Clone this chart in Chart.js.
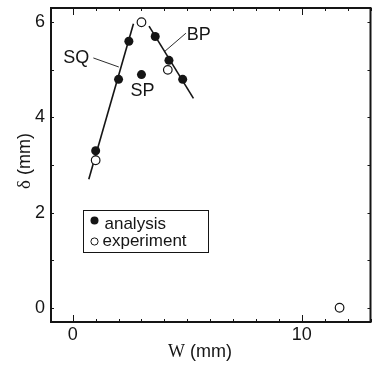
<!DOCTYPE html>
<html>
<head>
<meta charset="utf-8">
<script src="https://cdn.jsdelivr.net/npm/chart.js@4.4.0/dist/chart.umd.min.js"></script>
<style>
  html, body { margin: 0; padding: 0; background: #fff; }
  #wrap { width: 376px; height: 367px; }
</style>
</head>
<body>
<div id="wrap"><canvas id="chart" width="376" height="367"></canvas></div>
<script>
// W (mm) against delta (mm)
const analysisW = [1.0, 2.0, 2.45, 3.0, 3.6, 4.2, 4.8];
const analysisD = [3.3, 4.8, 5.6, 4.9, 5.7, 5.2, 4.8];
const experimentW = [1.0, 3.0, 4.15, 11.65];
const experimentD = [3.1, 6.0, 5.0, 0.0];

// fitted lines SQ and BP
const sqLineW = [0.7, 2.65];
const sqLineD = [2.7, 5.97];
const bpLineW = [3.33, 5.27];
const bpLineD = [5.92, 4.4];

// axes
const xTicks = [0, 10];
const yTicks = [0, 2, 4, 6];
const xRange = [-0.95, 13];
const yRange = [-0.3, 6.3];

// curve names and their leader lines, in data units
const curveLabels = [
  { text: 'SQ', x: 0.15, y: 5.24 },
  { text: 'SP', x: 3.04, y: 4.55 },
  { text: 'BP', x: 5.5, y: 5.73 }
];
const leaders = [
  { x1: 0.9, y1: 5.25, x2: 2.01, y2: 5.06 },
  { x1: 4.94, y1: 5.77, x2: 4.02, y2: 5.39 }
];
const legendAt = { x: 0.46, y: 2.06 };

const ink = '#151515';
const sans = '"Liberation Sans", Arial, sans-serif';
const serif = '"Liberation Serif", "Times New Roman", serif';

const toPoints = (xs, ys) => xs.map((v, i) => ({ x: v, y: ys[i] }));

// Ticks pointing inward, frame, labels, legend, axis titles
const framePlugin = {
  id: 'frame',
  beforeDatasetsDraw(chart) {
    const { ctx, chartArea: a, scales: { x, y } } = chart;
    ctx.save();
    ctx.strokeStyle = ink;
    ctx.lineWidth = 1;
    ctx.beginPath();
    for (let v = Math.ceil(x.min); v <= x.max; v++) {
      const px = Math.round(x.getPixelForValue(v)) + 0.5;
      const len = xTicks.includes(v) ? 7 : 3;
      ctx.moveTo(px, a.bottom); ctx.lineTo(px, a.bottom - len);
      ctx.moveTo(px, a.top); ctx.lineTo(px, a.top + len);
    }
    for (let v = Math.ceil(y.min); v <= y.max; v++) {
      const py = Math.round(y.getPixelForValue(v)) + 0.5;
      ctx.moveTo(a.left, py); ctx.lineTo(a.left + 3, py);
      ctx.moveTo(a.right, py); ctx.lineTo(a.right - 3, py);
    }
    ctx.stroke();

    // leader lines
    ctx.lineWidth = 0.9;
    ctx.beginPath();
    leaders.forEach(l => {
      ctx.moveTo(x.getPixelForValue(l.x1), y.getPixelForValue(l.y1));
      ctx.lineTo(x.getPixelForValue(l.x2), y.getPixelForValue(l.y2));
    });
    ctx.stroke();
    ctx.restore();
  },
  afterDraw(chart) {
    const { ctx, chartArea: a, scales: { x, y } } = chart;
    ctx.save();
    ctx.strokeStyle = ink;
    ctx.fillStyle = ink;
    ctx.lineWidth = 2;
    ctx.strokeRect(a.left, a.top, a.right - a.left, a.bottom - a.top);

    // curve names
    ctx.font = '18px ' + sans;
    ctx.textAlign = 'center';
    ctx.textBaseline = 'middle';
    curveLabels.forEach(l => {
      ctx.fillText(l.text, x.getPixelForValue(l.x), y.getPixelForValue(l.y));
    });

    // legend box
    const lx = Math.round(x.getPixelForValue(legendAt.x)) + 0.5;
    const ly = Math.round(y.getPixelForValue(legendAt.y)) + 0.5;
    ctx.lineWidth = 1;
    ctx.strokeRect(lx, ly, 125, 42);
    ctx.beginPath();
    ctx.arc(lx + 11, ly + 10, 4, 0, Math.PI * 2);
    ctx.fill();
    ctx.beginPath();
    ctx.arc(lx + 11, ly + 31, 3.6, 0, Math.PI * 2);
    ctx.stroke();
    ctx.font = '17px ' + sans;
    ctx.textAlign = 'left';
    ctx.textBaseline = 'alphabetic';
    ctx.fillText('analysis', lx + 21, ly + 18);
    ctx.fillText('experiment', lx + 19, ly + 35);

    // x title: W (mm)
    ctx.font = '18px ' + serif;
    const wWidth = ctx.measureText('W').width;
    ctx.font = '18px ' + sans;
    const restWidth = ctx.measureText(' (mm)').width;
    let tx = 200 - (wWidth + restWidth) / 2;
    ctx.font = '18px ' + serif;
    ctx.fillText('W', tx, 357);
    ctx.font = '18px ' + sans;
    ctx.fillText(' (mm)', tx + wWidth, 357);

    // y title: delta (mm), rotated
    ctx.translate(30, 161);
    ctx.rotate(-Math.PI / 2);
    ctx.font = '19px ' + serif;
    const dWidth = ctx.measureText('δ').width;
    ctx.font = '18px ' + sans;
    const mmWidth = ctx.measureText(' (mm)').width;
    tx = -(dWidth + mmWidth) / 2;
    ctx.font = '19px ' + serif;
    ctx.fillText('δ', tx, 0);
    ctx.font = '18px ' + sans;
    ctx.fillText(' (mm)', tx + dWidth, 0);
    ctx.restore();
  }
};

const ctx = document.getElementById('chart').getContext('2d');
new Chart(ctx, {
  type: 'scatter',
  data: {
    datasets: [
      {
        label: 'analysis',
        data: toPoints(analysisW, analysisD),
        backgroundColor: ink,
        borderWidth: 0,
        pointRadius: 4.5
      },
      {
        label: 'experiment',
        data: toPoints(experimentW, experimentD),
        backgroundColor: '#fff',
        borderColor: ink,
        borderWidth: 1.2,
        pointRadius: 4.3
      },
      {
        label: 'SQ',
        data: toPoints(sqLineW, sqLineD),
        showLine: true,
        borderColor: ink,
        borderWidth: 1.6,
        pointRadius: 0
      },
      {
        label: 'BP',
        data: toPoints(bpLineW, bpLineD),
        showLine: true,
        borderColor: ink,
        borderWidth: 1.6,
        pointRadius: 0
      }
    ]
  },
  options: {
    responsive: false,
    animation: false,
    layout: { padding: { top: 8, right: 1, left: 0, bottom: 0 } },
    plugins: {
      legend: { display: false },
      tooltip: { enabled: false }
    },
    scales: {
      x: {
        type: 'linear',
        min: xRange[0],
        max: xRange[1],
        grid: { display: false, drawTicks: false },
        border: { display: false },
        ticks: {
          color: ink,
          font: { family: sans, size: 18 },
          padding: 2,
          maxRotation: 0
        },
        afterBuildTicks: s => { s.ticks = xTicks.map(v => ({ value: v })); },
        afterFit: s => {
          s.height = 45;
          s.paddingLeft = 0; s.paddingRight = 0;
        }
      },
      y: {
        type: 'linear',
        min: yRange[0],
        max: yRange[1],
        grid: { display: false, drawTicks: false },
        border: { display: false },
        ticks: {
          color: ink,
          font: { family: sans, size: 18 },
          padding: 6
        },
        afterBuildTicks: s => { s.ticks = yTicks.map(v => ({ value: v })); },
        afterFit: s => {
          s.width = 51;
          s.paddingTop = 0; s.paddingBottom = 0;
        }
      }
    }
  },
  plugins: [framePlugin]
});
</script>
</body>
</html>
